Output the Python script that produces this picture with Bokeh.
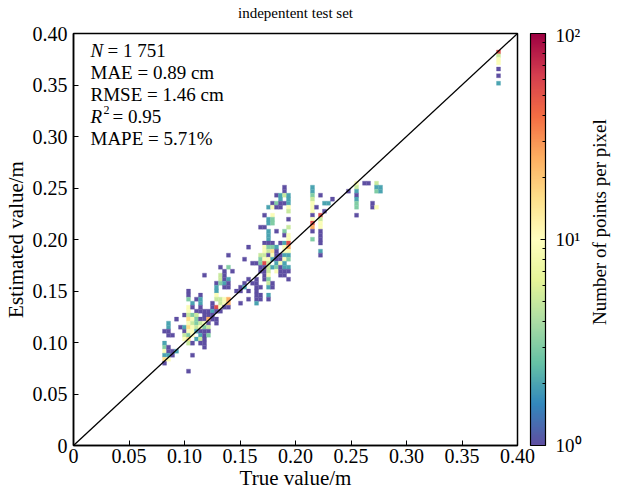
import numpy as np
from bokeh.plotting import figure
from bokeh.layouts import row, column
from bokeh.models import (ColumnDataSource, LogColorMapper, ColorBar, FixedTicker,
                          Label, Range1d)
from bokeh.core.properties import value
from bokeh.transform import transform
from bokeh.embed import file_html
from bokeh.resources import INLINE

# ---------------- data: density cells (column x, cell y values, point counts) -------------
col_x = [0.0820, 0.0856, 0.0892, 0.0928, 0.0964, 0.1000, 0.1036, 0.1072, 0.1108, 0.1144,
         0.1180, 0.1216, 0.1252, 0.1288, 0.1324, 0.1360, 0.1396, 0.1432, 0.1468, 0.1505,
         0.1541, 0.1577, 0.1613, 0.1649, 0.1685, 0.1721, 0.1757, 0.1793, 0.1829, 0.1865,
         0.1901, 0.1937, 0.2153, 0.2189, 0.2225, 0.2261, 0.2297, 0.2333, 0.2477, 0.2550,
         0.2622, 0.2658, 0.2694, 0.2730, 0.2766, 0.3829]
col_y = [
    [.1110, .0994, .0955, .0916, .0877, .0838, .0799],
    [.1188, .1149, .1110, .1071, .0955, .0916, .0877, .0838],
    [.1071, .0916, .0877],
    [.1227, .0916],
    [.1149],
    [.1266, .1149, .1110, .1071, .1033],
    [.1499, .1460, .1421, .1343, .1304, .1266, .1227, .1188, .1149, .1110, .1071, .1033, .0994, .0722],
    [.1382, .1343, .1266, .1227, .1188, .1149, .1110, .1071, .0994, .0877],
    [.1421, .1304, .1266, .1227, .1188, .1149, .1110, .1033],
    [.1460, .1421, .1382, .1343, .1304, .1227, .1188, .1149, .1110, .1071, .1033, .0994],
    [.1654, .1304, .1266, .1227, .1188, .1149, .1110, .1071, .1033, .0994, .0955],
    [.1304, .1266, .1227, .1188, .1149, .1110, .1071],
    [.1382, .1343, .1304, .1266, .1227],
    [.1576, .1537, .1499, .1460, .1421, .1343, .1304, .1227, .1188],
    [.1731, .1654, .1615, .1576, .1421, .1382, .1343, .1304],
    [.1692, .1654, .1615, .1576, .1537, .1421, .1382, .1343],
    [.1848, .1731, .1615, .1576, .1537, .1421, .1382, .1343],
    [.1692],
    [.1499],
    [.1537, .1499, .1382],
    [.1809, .1576, .1537],
    [.1926, .1615, .1499, .1421],
    [.1770, .1576],
    [.1770, .1615, .1576, .1537, .1499, .1460, .1421, .1382],
    [.2120, .1848, .1809, .1770, .1731, .1692, .1537, .1460, .1421],
    [.2236, .2120, .1965, .1926, .1887, .1848, .1809, .1770, .1731, .1692, .1654, .1615],
    [.2314, .2197, .2159, .2081, .2042, .2003, .1965, .1926, .1887, .1848, .1809, .1770, .1731,
     .1692, .1654, .1615, .1576, .1537, .1460, .1421],
    [.2353, .2314, .2236, .2197, .2159, .1965, .1926, .1887, .1848, .1809, .1731, .1576, .1537],
    [.2430, .2353, .2314, .2081, .1926, .1887, .1848, .1809, .1770, .1731, .1692],
    [.2430, .2392, .2353, .2314, .1965, .1848, .1809, .1770, .1731, .1692, .1654],
    [.2508, .2469, .2430, .2353, .2081, .2042, .1965, .1926, .1887, .1848, .1809, .1770, .1731,
     .1692, .1654],
    [.2430, .2392, .2353, .2314, .2275, .2197, .2120, .2042, .2003, .1965, .1926, .1887, .1848,
     .1809, .1731, .1692, .1615],
    [.2508, .2469, .2430, .2392, .2353, .2314, .2275, .2236, .2197, .2159, .2120, .2081, .2003],
    [.2314],
    [.2430, .2236, .2197, .2159, .2120, .2081, .2042, .2003, .1965, .1887, .1848],
    [.2353, .2275],
    [.2353],
    [.2392],
    [.2469],
    [.2547, .2508, .2469, .2430, .2392, .2353, .2314, .2236],
    [.2547],
    [.2547],
    [.2353, .2314],
    [.2547, .2508, .2469, .2314],
    [.2508, .2469],
    [.3820, .3785, .3750, .3715, .3655, .3590, .3517],
]
col_n = [
    [1, 2, 3, 9, 2, 16, 1],
    [2, 2, 1, 1, 1, 1, 2, 9],
    [1, 1, 1],
    [1, 2],
    [1],
    [1, 2, 1, 5, 9],
    [1, 1, 3, 9, 9, 5, 16, 9, 16, 9, 3, 16, 5, 1],
    [2, 1, 3, 9, 5, 9, 9, 9, 1, 1],
    [1, 1, 5, 3, 3, 5, 2, 2],
    [1, 2, 2, 1, 1, 1, 5, 9, 1, 2, 5, 1],
    [1, 1, 1, 1, 9, 3, 1, 1, 1, 1, 1],
    [1, 1, 25, 1, 5, 1, 3],
    [1, 1, 2, 1, 1],
    [1, 2, 2, 9, 5, 55, 1, 1, 1],
    [1, 5, 5, 3, 5, 5, 9, 1],
    [1, 1, 1, 2, 1, 9, 9, 1],
    [1, 3, 2, 1, 1, 25, 25, 1],
    [1],
    [1],
    [1, 1, 1],
    [1, 1, 2],
    [1, 1, 1, 1],
    [1, 1],
    [1, 1, 1, 1, 1, 1, 1, 2],
    [1, 5, 3, 3, 1, 1, 1, 1, 1],
    [1, 1, 1, 9, 9, 5, 9, 55, 1, 1, 1, 1],
    [2, 2, 2, 2, 2, 2, 1, 3, 5, 1, 9, 5, 5, 5, 9, 3, 5, 2, 2, 1],
    [1, 9, 9, 3, 3, 1, 3, 16, 9, 2, 2, 1, 1],
    [1, 3, 1, 1, 2, 1, 1, 1, 2, 3, 9],
    [2, 2, 1, 1, 1, 1, 1, 9, 1, 1, 1],
    [1, 1, 5, 1, 3, 1, 2, 9, 9, 2, 9, 2, 2, 1, 1],
    [2, 2, 2, 9, 5, 1, 5, 9, 9, 55, 25, 9, 2, 3, 2, 1, 1],
    [2, 2, 3, 5, 9, 9, 9, 1, 9, 55, 25, 1, 3],
    [1],
    [1, 55, 5, 9, 9, 1, 1, 1, 1, 2, 1],
    [2, 1],
    [2],
    [1],
    [1],
    [9, 5, 2, 1, 2, 3, 3, 1],
    [1],
    [1],
    [1, 1],
    [5, 2, 3, 9],
    [2, 2],
    [55, 5, 9, 9, 1, 1, 2],
]

x_ticks = [0.0, 0.05, 0.10, 0.15, 0.20, 0.25, 0.30, 0.35, 0.40]
tick_labels = ["0", "0.05", "0.10", "0.15", "0.20", "0.25", "0.30", "0.35", "0.40"]
cb_ticks = [1, 10, 100]
cb_labels = ["10\u2070", "10\u00b9", "10\u00b2"]
cb_minor = [2, 3, 4, 5, 6, 7, 8, 9, 20, 30, 40, 50, 60, 70, 80, 90]
diag = [0.0, 0.40]
stats_lhs = ["N", "MAE", "RMSE", "R", "MAPE"]
stats_rhs = ["= 1 751", "= 0.89 cm", "= 1.46 cm", "= 0.95", "= 5.71%"]
title_text = "indepentent test set"
cb_caption = "Number of points per pixel"

# ---------------- build --------------------------------------------------------------
BIN_W, BIN_H = 0.0036, 0.0039
FONT = "Liberation Serif"
TITLE_H = 24

xs, ys, ns = [], [], []
for cx, yl, nl in zip(col_x, col_y, col_n):
    for yy, nn in zip(yl, nl):
        xs.append(cx); ys.append(yy); ns.append(nn)
src = ColumnDataSource(dict(x=xs, y=ys, n=ns))

spectral = ['#5e4fa2', '#3288bd', '#66c2a5', '#abdda4', '#e6f598', '#ffffbf',
            '#fee08b', '#fdae61', '#f46d43', '#d53e4f', '#9e0142']
rgb = np.array([[int(c[i:i + 2], 16) for i in (1, 3, 5)] for c in spectral], float)
pos = np.linspace(0, 1, len(spectral))
t = np.linspace(0, 1, 256)
pal = ["#%02x%02x%02x" % tuple(int(round(np.interp(tt, pos, rgb[:, k]))) for k in range(3))
       for tt in t]
mapper = LogColorMapper(palette=pal, low=1, high=100)

p = figure(width=587, height=493 - TITLE_H, output_backend="svg", toolbar_location=None,
           x_range=Range1d(0, 0.4), y_range=Range1d(0, 0.4),
           min_border_left=73, min_border_right=70, min_border_top=33 - TITLE_H,
           min_border_bottom=48,
           background_fill_color="white", border_fill_color="white")

p.rect(x="x", y="y", width=BIN_W, height=BIN_H, source=src,
       fill_color=transform("n", mapper), line_color=transform("n", mapper), line_width=0.3)
p.line(diag, diag, line_color="black", line_width=1.3)

p.grid.visible = False
p.outline_line_color = "black"
p.outline_line_width = 1.5

for ax in (p.xaxis[0], p.yaxis[0]):
    ax.ticker = FixedTicker(ticks=x_ticks)
    ax.major_label_overrides = dict(zip(x_ticks, tick_labels))
    ax.major_tick_in = 5
    ax.major_tick_out = 0
    ax.minor_tick_line_color = None
    ax.axis_line_color = "black"
    ax.axis_line_width = 1.5
    ax.major_tick_line_color = "black"
    ax.major_label_text_font = FONT
    ax.major_label_text_font_size = "20px"
    ax.major_label_text_color = "black"
    ax.axis_label_text_font = FONT
    ax.axis_label_text_font_style = "normal"
    ax.axis_label_text_font_size = "21px"
    ax.axis_label_text_color = "black"
p.xaxis.axis_label = "True value/m"
p.yaxis.axis_label = "Estimated value/m"
p.xaxis.major_label_standoff = 3
p.yaxis.major_label_standoff = 6
p.xaxis.axis_label_standoff = 0
p.yaxis.axis_label_standoff = 2

cb = ColorBar(color_mapper=mapper, ticker=FixedTicker(ticks=cb_ticks, minor_ticks=cb_minor),
              major_label_overrides=dict(zip(cb_ticks, cb_labels)),
              width=15, padding=0, margin=0, location=(13, 0),
              bar_line_color="black", bar_line_width=1.2,
              major_tick_line_color="black", major_tick_in=5, major_tick_out=0,
              minor_tick_line_color="black", minor_tick_in=3, minor_tick_out=0,
              major_label_text_font=FONT, major_label_text_font_size="19px",
              major_label_text_color="black", label_standoff=10,
              background_fill_color=None)
p.add_layout(cb, "right")

# stats text (screen units relative to the frame)
base_y = [395, 373, 351, 329, 307]
for i, (lhs, rhs) in enumerate(zip(stats_lhs, stats_rhs)):
    if lhs in ("N", "R"):
        p.add_layout(Label(x=17, y=base_y[i], x_units="screen", y_units="screen", text=lhs,
                           text_font=FONT, text_font_size="19px", text_font_style="italic",
                           text_color="black", text_baseline="alphabetic"))
        rx = 34 if lhs == "N" else 39
        if lhs == "R":
            p.add_layout(Label(x=30, y=base_y[i] + 7, x_units="screen", y_units="screen",
                               text="2", text_font=FONT, text_font_size="12px",
                               text_color="black", text_baseline="alphabetic"))
        p.add_layout(Label(x=rx, y=base_y[i], x_units="screen", y_units="screen", text=rhs,
                           text_font=FONT, text_font_size="19px",
                           text_color="black", text_baseline="alphabetic"))
    else:
        p.add_layout(Label(x=17, y=base_y[i], x_units="screen", y_units="screen",
                           text=lhs + " " + rhs, text_font=FONT, text_font_size="19px",
                           text_color="black", text_baseline="alphabetic"))

# caption strip to the right of the colour bar
cap = figure(width=30, height=493 - TITLE_H, output_backend="svg", toolbar_location=None,
             x_range=Range1d(0, 1), y_range=Range1d(0, 1),
             x_axis_location=None, y_axis_location=None, min_border=0,
             outline_line_color=None, background_fill_color="white",
             border_fill_color="white")
cap.grid.visible = False
cap.text(x=[0.40], y=[0.542], text=[cb_caption], angle=np.pi / 2,
         text_align="center", text_baseline="middle",
         text_font=value(FONT), text_font_size="19px", text_color="black")

# title strip above the plot
ttl = figure(width=617, height=TITLE_H, output_backend="svg", toolbar_location=None,
             x_range=Range1d(0, 617), y_range=Range1d(0, 1),
             x_axis_location=None, y_axis_location=None, min_border=0,
             outline_line_color=None, background_fill_color="white",
             border_fill_color="white")
ttl.grid.visible = False
ttl.text(x=[295], y=[0.5], text=[title_text], text_align="center", text_baseline="middle",
         text_font=value(FONT), text_font_size="15px", text_color="black")

layout = column(ttl, row(p, cap))
open("out.html", "w").write(file_html(layout, INLINE))
